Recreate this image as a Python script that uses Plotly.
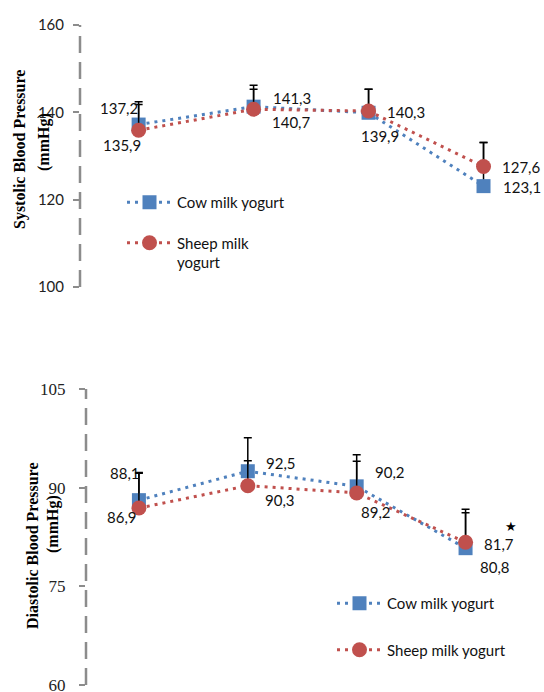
import plotly.graph_objects as go

categories = [0, 1, 2, 3]

sbp_cow = [137.2, 141.3, 139.9, 123.1]
sbp_sheep = [135.9, 140.7, 140.3, 127.6]
sbp_cow_err = [5.2, 4.9, 5.4, 10.0]
sbp_sheep_err = [5.9, 4.6, 5.0, 5.5]

dbp_cow = [88.1, 92.5, 90.2, 80.8]
dbp_sheep = [86.9, 90.3, 89.2, 81.7]
dbp_cow_err = [4.2, 5.1, 4.8, 5.4]
dbp_sheep_err = [5.3, 3.8, 4.8, 5.0]

sbp_ticks = [100, 120, 140, 160]
dbp_ticks = [60, 75, 90, 105]

W, H = 544, 692
BLUE = "#4F81BD"
RED = "#C0504D"
GRAY = "#8c8c8c"
SANS = "Lato"
SERIF = "Liberation Serif"

def px(x):
    return x / W

def py(y):
    return 1 - y / H

fig = go.Figure()

def add_series(xa, ya, vals, errs, name, color, symbol, size, legend, group):
    fig.add_trace(go.Scatter(
        x=categories, y=vals, xaxis=xa, yaxis=ya, name=name,
        mode="lines+markers",
        line=dict(color=color, width=3, dash="3px,5px"),
        marker=dict(color=color, symbol=symbol, size=size),
        error_y=dict(type="data", symmetric=False, array=errs,
                     arrayminus=[0] * len(errs), color="black",
                     thickness=1.5, width=4),
        legend=legend, legendgroup=group, cliponaxis=False,
    ))

add_series("x", "y", sbp_cow, sbp_cow_err, "Cow milk yogurt", BLUE, "square", 14, "legend", "a")
add_series("x", "y", sbp_sheep, sbp_sheep_err, "Sheep milk<br>yogurt", RED, "circle", 15, "legend", "b")
add_series("x2", "y2", dbp_cow, dbp_cow_err, "Cow milk yogurt", BLUE, "square", 14, "legend2", "c")
add_series("x2", "y2", dbp_sheep, dbp_sheep_err, "Sheep milk yogurt", RED, "circle", 15, "legend2", "d")

def fmt(v):
    return f"{v:.1f}".replace(".", ",")

annotations = []
def add_labels(xr, yr, vals, shifts):
    for c, v, (dx, dy) in zip(categories, vals, shifts):
        annotations.append(dict(
            x=c, y=v, xref=xr, yref=yr, text=fmt(v), showarrow=False,
            xshift=dx, yshift=dy, font=dict(family=SANS, size=15, color="#111")))

add_labels("x", "y", sbp_cow, [(-20, 17), (38, 9), (11, -23), (38, -1)])
add_labels("x", "y", sbp_sheep, [(-17, -15), (38, -13), (37, -1), (38, -1)])
add_labels("x2", "y2", dbp_cow, [(-14, 27), (33, 8), (33, 14), (29, -19)])
add_labels("x2", "y2", dbp_sheep, [(-17, -9), (32, -14), (19, -19), (33, -2)])

# significance star at last diastolic time point
annotations.append(dict(x=categories[-1], y=dbp_sheep[-1], xref="x2", yref="y2",
                        text="★", showarrow=False, xshift=45, yshift=16,
                        font=dict(family="DejaVu Sans", size=13, color="black")))

# axis titles
title_font = dict(family=SERIF, size=16, color="black")
def title(xp, yp, txt):
    return dict(x=px(xp), y=py(yp), xref="paper", yref="paper", text=txt,
                xanchor="center", yanchor="middle", textangle=-90,
                showarrow=False, font=title_font)

annotations += [
    title(20, 150, "<b>Systolic Blood Pressure</b>"),
    title(44, 142, "<b>(mmHg)</b>"),
    title(32, 546, "<b>Diastolic Blood Pressure</b>"),
    title(53, 524, "<b>(mmHg)</b>"),
]

shapes = [
    dict(type="line", xref="x domain", yref="y", x0=0, x1=0, y0=sbp_ticks[0], y1=sbp_ticks[-1],
         line=dict(color=GRAY, width=2.5, dash="17px,9px")),
    dict(type="line", xref="x2 domain", yref="y2", x0=0, x1=0, y0=dbp_ticks[0], y1=dbp_ticks[-1],
         line=dict(color=GRAY, width=2.5, dash="17px,9px")),
]

xaxis_common = dict(showline=False, showgrid=False, zeroline=False, showticklabels=False,
                    ticks="", automargin=False)

fig.update_layout(
    width=W, height=H,
    margin=dict(l=0, r=0, t=0, b=0, autoexpand=False),
    paper_bgcolor="white", plot_bgcolor="white",
    xaxis=dict(domain=[px(80), px(541)], range=[-0.51, 3.5], anchor="y", **xaxis_common),
    yaxis=dict(domain=[py(287), py(25)], range=[100, 160], anchor="x", automargin=False,
               tickvals=sbp_ticks, ticks="outside", ticklen=6, tickwidth=2, tickcolor=GRAY,
               showgrid=False, zeroline=False, showline=False, ticklabelstandoff=6,
               ticklabeloverflow="allow",
               tickfont=dict(family=SANS, size=15, color="#222")),
    xaxis2=dict(domain=[px(86), px(520)], range=[-0.486, 3.5], anchor="y2", **xaxis_common),
    yaxis2=dict(domain=[py(685), py(389)], range=[60, 105], anchor="x2", automargin=False,
                tickvals=dbp_ticks, ticks="outside", ticklen=6, tickwidth=2, tickcolor=GRAY,
                showgrid=False, zeroline=False, showline=False, ticklabelstandoff=10,
                ticklabeloverflow="allow",
                tickfont=dict(family=SERIF, size=17, color="#222")),
    legend=dict(x=px(122), y=py(186), xanchor="left", yanchor="top", bgcolor="rgba(0,0,0,0)",
                font=dict(family=SANS, size=15, color="#111"), traceorder="grouped",
                tracegroupgap=18, valign="top", itemwidth=45),
    legend2=dict(x=px(332), y=py(587), xanchor="left", yanchor="top", bgcolor="rgba(0,0,0,0)",
                 font=dict(family=SANS, size=15, color="#111"), traceorder="grouped",
                 tracegroupgap=24, valign="top", itemwidth=45),
    annotations=annotations,
    shapes=shapes,
    showlegend=True,
)

fig.write_html("out.html", config={"displayModeBar": False},
               post_script="document.body.style.margin='0';")
